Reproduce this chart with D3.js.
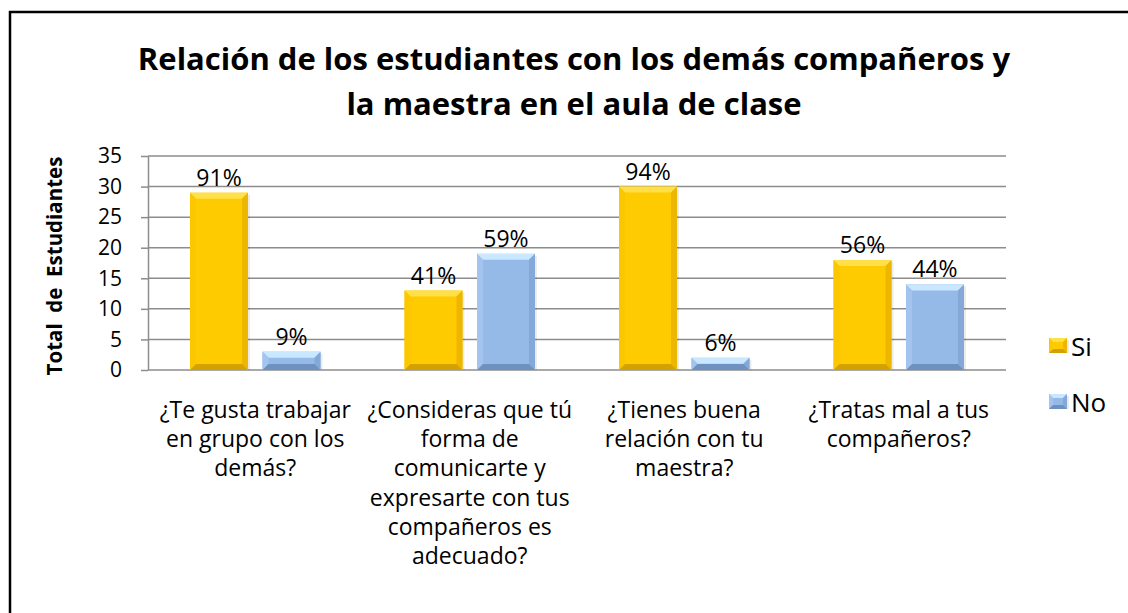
<!DOCTYPE html>
<html>
<head>
<meta charset="utf-8">
<script src="https://cdn.jsdelivr.net/npm/d3@7"></script>
<style>
  body { margin: 0; background: #fff; }
  svg { display: block; font-family: "Open Sans", "Liberation Sans", sans-serif; }
</style>
</head>
<body>
<svg id="chart" width="1128" height="613"></svg>
<script>
// data
var CATEGORIES = [
    "¿Te gusta trabajar\nen grupo con los\ndemás?",
    "¿Consideras que tú\nforma de\ncomunicarte y\nexpresarte con tus\ncompañeros es\nadecuado?",
    "¿Tienes buena\nrelación con tu\nmaestra?",
    "¿Tratas mal a tus\ncompañeros?"
];
var SERIES = ["Si", "No"];
var SI_VALUES = [29, 13, 30, 18];
var NO_VALUES = [3, 19, 2, 14];
var SI_LABELS = ["91%", "41%", "94%", "56%"];
var NO_LABELS = ["9%", "59%", "6%", "44%"];
var Y_TICKS = [0, 5, 10, 15, 20, 25, 30, 35];
var TITLE = ["Relación de los estudiantes con los demás compañeros y", "la maestra en el aula de clase"];
var Y_TITLE = "Total  de  Estudiantes";

var PLOT = {left: 148, right: 1006, top: 156, bottom: 370};
var COLORS = {
    Si: {main: "#FECB00", top: "#FFE04A", left: "#FCC600", right: "#EDB600", bottom: "#D3A200"},
    No: {main: "#96BAE8", top: "#C9E8FF", left: "#A3C4EE", right: "#84A8D8", bottom: "#6F91C0"}
};

var svg = d3.select("#chart");

// outer frame (runs off the right and bottom edges)
svg.append("rect")
    .attr("x", 10).attr("y", 12)
    .attr("width", 1140).attr("height", 620)
    .attr("fill", "#fff")
    .attr("stroke", "#000")
    .attr("stroke-width", 2.5);

var x0 = d3.scaleBand()
    .domain(d3.range(CATEGORIES.length))
    .range([PLOT.left, PLOT.right])
    .padding(0);

var x1 = d3.scaleBand()
    .domain(SERIES)
    .range([0, x0.bandwidth()])
    .paddingInner(0.2)
    .paddingOuter(0.58);

var y = d3.scaleLinear()
    .domain([0, 35])
    .range([PLOT.bottom, PLOT.top]);

// grid lines
svg.append("g")
    .selectAll("line")
    .data(Y_TICKS.filter(d => d > 0))
    .join("line")
    .attr("x1", PLOT.left).attr("x2", PLOT.right)
    .attr("y1", d => y(d)).attr("y2", d => y(d))
    .attr("stroke", "#8c8c8c")
    .attr("stroke-width", 1.5);

// y axis
var yAxis = svg.append("g")
    .attr("transform", `translate(${PLOT.left},0)`)
    .call(d3.axisLeft(y).tickValues(Y_TICKS).tickSize(7).tickPadding(19).tickSizeOuter(0));
yAxis.select(".domain").attr("stroke", "#8c8c8c").attr("stroke-width", 1.5);
yAxis.selectAll(".tick line").attr("stroke", "#8c8c8c").attr("stroke-width", 1.5);
yAxis.selectAll(".tick text")
    .attr("font-family", "Open Sans")
    .attr("font-size", 21)
    .attr("fill", "#000");

// x axis baseline
svg.append("line")
    .attr("x1", PLOT.left).attr("x2", PLOT.right)
    .attr("y1", y(0)).attr("y2", y(0))
    .attr("stroke", "#8c8c8c")
    .attr("stroke-width", 1.5);

// bars
var rows = SERIES.map(s => ({
    key: s,
    values: s === "Si" ? SI_VALUES : NO_VALUES,
    labels: s === "Si" ? SI_LABELS : NO_LABELS
}));
var bars = [];
rows.forEach(r => {
    r.values.forEach((v, i) => {
        bars.push({series: r.key, i: i, value: v, label: r.labels[i]});
    });
});

function drawBevelBar(g, bx, by, bw, bh, c, b) {
    b = Math.min(b, bh / 2);
    // soft shadow
    g.append("rect")
        .attr("x", bx + 2).attr("y", by + 2)
        .attr("width", bw).attr("height", Math.max(0, bh - 2))
        .attr("fill", "#000").attr("opacity", 0.08);
    g.append("rect")
        .attr("x", bx).attr("y", by)
        .attr("width", bw).attr("height", bh)
        .attr("fill", c.main);
    // top bevel
    g.append("polygon")
        .attr("points", [[bx, by], [bx + bw, by], [bx + bw - b, by + b], [bx + b, by + b]].join(" "))
        .attr("fill", c.top);
    // left bevel
    g.append("polygon")
        .attr("points", [[bx, by], [bx + b, by + b], [bx + b, by + bh - b], [bx, by + bh]].join(" "))
        .attr("fill", c.left);
    // right bevel
    g.append("polygon")
        .attr("points", [[bx + bw, by], [bx + bw - b, by + b], [bx + bw - b, by + bh - b], [bx + bw, by + bh]].join(" "))
        .attr("fill", c.right);
    // bottom bevel
    g.append("polygon")
        .attr("points", [[bx, by + bh], [bx + b, by + bh - b], [bx + bw - b, by + bh - b], [bx + bw, by + bh]].join(" "))
        .attr("fill", c.bottom);
}

var barG = svg.append("g");
bars.forEach(d => {
    var bx = x0(d.i) + x1(d.series);
    var by = y(d.value);
    var bh = y(0) - y(d.value);
    drawBevelBar(barG.append("g"), bx, by, x1.bandwidth(), bh, COLORS[d.series], 6);
});

// value labels
svg.append("g")
    .selectAll("text")
    .data(bars)
    .join("text")
    .attr("x", d => x0(d.i) + x1(d.series) + x1.bandwidth() / 2)
    .attr("y", d => y(d.value) - 7)
    .attr("text-anchor", "middle")
    .attr("font-size", 23)
    .attr("fill", "#000")
    .text(d => d.label);

// category labels
var catG = svg.append("g");
CATEGORIES.forEach((c, i) => {
    var t = catG.append("text")
        .attr("x", x0(i) + x0.bandwidth() / 2)
        .attr("y", 418)
        .attr("text-anchor", "middle")
        .attr("font-size", 23)
        .attr("fill", "#000");
    c.split("\n").forEach((line, j) => {
        t.append("tspan")
            .attr("x", x0(i) + x0.bandwidth() / 2)
            .attr("dy", j === 0 ? 0 : 29.2)
            .text(line);
    });
});

// title
svg.append("g")
    .selectAll("text")
    .data(TITLE)
    .join("text")
    .attr("x", 574)
    .attr("y", (d, i) => 70 + i * 45)
    .attr("text-anchor", "middle")
    .attr("font-size", 31)
    .attr("font-weight", "bold")
    .attr("fill", "#000")
    .text(d => d);

// y axis title
svg.append("text")
    .attr("transform", "translate(62,266) rotate(-90)")
    .attr("text-anchor", "middle")
    .attr("font-size", 20.5)
    .attr("font-weight", "bold")
    .attr("fill", "#000")
    .style("white-space", "pre")
    .text(Y_TITLE);

// legend
var legend = svg.append("g")
    .selectAll("g")
    .data(SERIES)
    .join("g")
    .attr("transform", (d, i) => `translate(1049,${338 + i * 56})`);
legend.each(function(d) {
    drawBevelBar(d3.select(this), 0, 0, 18, 15, COLORS[d], 4);
});
legend.append("text")
    .attr("x", 22)
    .attr("y", 18)
    .attr("font-size", 26)
    .attr("fill", "#000")
    .text(d => d);
</script>
</body>
</html>
